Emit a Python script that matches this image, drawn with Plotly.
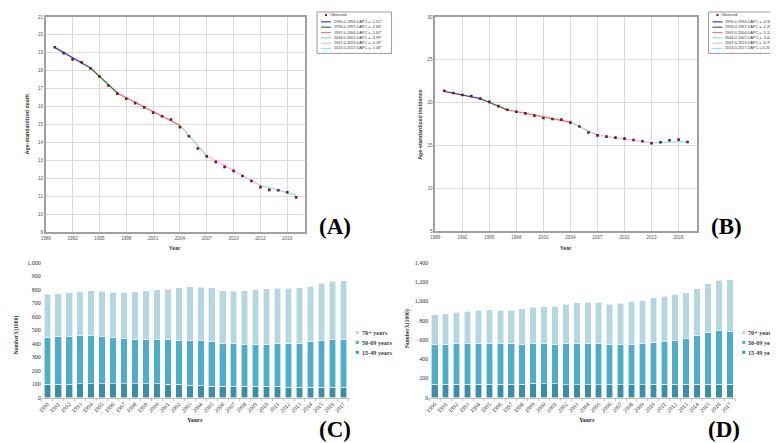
import plotly.graph_objects as go

W, H = 778, 443

# ---- data ----
years = list(range(1990, 2018))
year_labels = [str(y) for y in years]
joinpoints = [1990, 1994, 1997, 2004, 2007, 2013, 2017]
seg_colors = ["#3c3cc8", "#2f7f2f", "#f07878", "#8fd8d8", "#f2b4f2", "#7ff0f0"]

death_obs = [19.31, 18.98, 18.63, 18.47, 18.12, 17.68, 17.17, 16.72, 16.43, 16.19,
             15.95, 15.66, 15.46, 15.28, 14.85, 14.34, 13.66, 13.22, 12.91, 12.63,
             12.41, 12.12, 11.84, 11.50, 11.35, 11.33, 11.22, 10.93]
death_fit = [19.3, 18.15, 16.75, 14.95, 13.25, 11.6, 11.05]
death_apc = ["-1.51*", "-2.63*", "-1.61*", "-3.99*", "-2.16*", "-1.34*"]

inc_obs = [21.38, 21.11, 20.88, 20.77, 20.46, 20.08, 19.58, 19.16, 18.93, 18.74,
           18.47, 18.20, 18.08, 18.01, 17.66, 17.20, 16.51, 16.17, 16.02, 15.90,
           15.79, 15.63, 15.48, 15.25, 15.36, 15.59, 15.67, 15.40]
inc_fit = [21.3, 20.45, 19.15, 17.7, 16.2, 15.3, 15.45]
inc_apc = ["-0.98*", "-2.28*", "-1.12*", "-3.00*", "-0.79*", "0.25"]

age_groups = ["15-49 years", "50-69 years", "70+ years"]
bar_colors = ["#3a8ea6", "#4eadc8", "#b5d7e2"]

deaths_15_49 = [98, 98, 98, 103, 103, 103, 103, 103, 103, 103, 103, 98, 98, 92,
                88, 85, 85, 85, 85, 85, 85, 85, 78, 78, 78, 78, 78, 78]
deaths_50_69 = [348, 353, 353, 355, 355, 348, 343, 336, 329, 329, 326, 329, 324, 330,
                332, 330, 317, 313, 310, 308, 310, 313, 320, 324, 337, 344, 354, 354]
deaths_70 = [319, 319, 324, 327, 332, 337, 336, 343, 353, 361, 371, 376, 390, 398,
             398, 397, 391, 390, 398, 405, 410, 410, 412, 410, 408, 426, 430, 433]

cases_15_49 = [140, 140, 140, 140, 140, 140, 140, 140, 140, 152, 145, 145, 132, 132,
               132, 132, 132, 132, 132, 132, 138, 138, 138, 138, 138, 138, 138, 138]
cases_50_69 = [406, 413, 417, 423, 423, 423, 417, 417, 413, 405, 412, 408, 425, 425,
               425, 425, 414, 414, 421, 428, 432, 443, 456, 477, 507, 538, 557, 552]
cases_70 = [314, 318, 327, 335, 345, 349, 351, 351, 369, 379, 385, 396, 409, 426,
            433, 433, 424, 431, 444, 451, 465, 471, 478, 474, 482, 502, 521, 533]

sans = "Liberation Sans, Arial, sans-serif"
serif = "Liberation Serif, Times New Roman, serif"


def px(x):
    return x / W


def py(y):
    return 1 - y / H


fig = go.Figure()
shapes = []
annotations = []


def joinpoint_panel(obs, fit, xa, ya):
    for i in range(len(fit) - 1):
        fig.add_trace(go.Scatter(x=[joinpoints[i], joinpoints[i + 1]], y=[fit[i], fit[i + 1]],
                                 mode="lines", line=dict(color=seg_colors[i], width=1.3),
                                 showlegend=False, xaxis=xa, yaxis=ya))
    fig.add_trace(go.Scatter(x=years, y=obs, mode="markers",
                             marker=dict(symbol="square", size=2.6, color="#7b1424"),
                             showlegend=False, xaxis=xa, yaxis=ya))


def jp_legend(x0, x1, apc):
    shapes.append(dict(type="rect", xref="paper", yref="paper", x0=px(x0), x1=px(x1),
                       y0=py(43), y1=py(1), line=dict(color="#9a9a9a", width=1),
                       fillcolor="white", layer="above"))
    shapes.append(dict(type="rect", xref="paper", yref="paper", x0=px(x0 + 8), x1=px(x0 + 10),
                       y0=py(5), y1=py(3), line=dict(width=0), fillcolor="#7b1424", layer="above"))
    annotations.append(dict(x=px(x0 + 11), y=py(4.5), xref="paper", yref="paper", text="Observed",
                            showarrow=False, xanchor="left", yanchor="middle",
                            font=dict(family=sans, size=3.8, color="#333")))
    for i, a in enumerate(apc):
        yy = 11 + 5.4 * i
        shapes.append(dict(type="line", xref="paper", yref="paper", x0=px(x0 + 4), x1=px(x0 + 14),
                           y0=py(yy), y1=py(yy), line=dict(color=seg_colors[i], width=1.2),
                           layer="above"))
        label = f"{joinpoints[i]:.1f}-{joinpoints[i + 1]:.1f} APC = {a}"
        annotations.append(dict(x=px(x0 + 15), y=py(yy), xref="paper", yref="paper", text=label,
                                showarrow=False, xanchor="left", yanchor="middle",
                                font=dict(family=sans, size=3.8, color="#333")))


joinpoint_panel(death_obs, death_fit, "x", "y")
joinpoint_panel(inc_obs, inc_fit, "x2", "y2")
jp_legend(306, 381, death_apc)
jp_legend(700, 776, inc_apc)

for vals, name, col in zip([deaths_15_49, deaths_50_69, deaths_70], age_groups, bar_colors):
    fig.add_trace(go.Bar(x=year_labels, y=vals, name=name, marker=dict(color=col, line=dict(color="white", width=0.6)),
                         showlegend=False, xaxis="x3", yaxis="y3"))
for vals, name, col in zip([cases_15_49, cases_50_69, cases_70], age_groups, bar_colors):
    fig.add_trace(go.Bar(x=year_labels, y=vals, name=name, marker=dict(color=col, line=dict(color="white", width=0.6)),
                         showlegend=False, xaxis="x4", yaxis="y4"))


def bar_legend(x0):
    for i, (name, col) in enumerate(zip(age_groups[::-1], bar_colors[::-1])):
        yy = 326 + 10 * i
        shapes.append(dict(type="rect", xref="paper", yref="paper", x0=px(x0), x1=px(x0 + 3),
                           y0=py(yy + 1.5), y1=py(yy - 1.5), line=dict(width=0), fillcolor=col))
        annotations.append(dict(x=px(x0 + 4), y=py(yy), xref="paper", yref="paper", text="<b>" + name + "</b>",
                                showarrow=False, xanchor="left", yanchor="middle",
                                font=dict(family=serif, size=6.2, color="#404040")))


bar_legend(345)
bar_legend(734)

line_ax = dict(showline=True, mirror=True, linecolor="#a0a0a0", linewidth=1.5, showgrid=True,
               gridcolor="#dcdcdc", gridwidth=1, ticks="", zeroline=False,
               tickfont=dict(family=sans, size=4.6, color="#555"))
jx = dict(range=[1989, 2018], tickvals=list(range(1989, 2017, 3)), ticklabelstandoff=1)
bar_x = dict(type="category", tickangle=-45, showline=True, linecolor="#bfbfbf", linewidth=1,
             ticks="outside", tickson="boundaries", ticklen=2, tickcolor="#bfbfbf",
             showgrid=False, tickfont=dict(family=serif, size=5.8, color="#303030"))
bar_y = dict(showline=False, showgrid=False, zeroline=False, ticks="", tickformat=",",
             tickfont=dict(family=serif, size=6, color="#303030"))

fig.update_layout(
    width=W, height=H, autosize=False, margin=dict(l=0, r=0, t=0, b=0),
    paper_bgcolor="white", plot_bgcolor="white", barmode="stack", bargap=0.4,
    xaxis=dict(domain=[px(33), px(294)], anchor="y", **jx, **line_ax),
    yaxis=dict(domain=[py(224), py(6)], anchor="x", range=[9, 21], dtick=1, **line_ax),
    xaxis2=dict(domain=[px(425), px(688)], anchor="y2", **jx, **line_ax),
    yaxis2=dict(domain=[py(223), py(6)], anchor="x2", range=[5, 30], dtick=5, **line_ax),
    xaxis3=dict(domain=[px(29), px(338)], anchor="y3", **bar_x),
    yaxis3=dict(domain=[py(392), py(255)], anchor="x3", range=[0, 1000], dtick=100, **bar_y),
    xaxis4=dict(domain=[px(419), px(727)], anchor="y4", **bar_x),
    yaxis4=dict(domain=[py(392), py(255)], anchor="x4", range=[0, 1400], dtick=200, **bar_y),
)


def note(x, y, text, size, family, angle=0, color="#333"):
    annotations.append(dict(x=px(x), y=py(y), xref="paper", yref="paper", text=text, showarrow=False,
                            xanchor="center", yanchor="middle", textangle=angle,
                            font=dict(family=family, size=size, color=color)))


note(15, 115, "<b>Age-standardized death</b>", 5.3, sans, -90)
note(410, 115, "<b>Age-standardized incidence</b>", 5.3, sans, -90)
note(163, 240, "<b>Year</b>", 5.3, sans)
note(556, 240, "<b>Year</b>", 5.3, sans)
note(4, 328, "<b>NumberX(1000)</b>", 5.6, serif, -90, "#303030")
note(397, 322, "<b>NumberX(1000)</b>", 5.6, serif, -90, "#303030")
note(183, 414, "<b>Years</b>", 6.5, serif, 0, "#303030")
note(578, 414, "<b>Years</b>", 6.5, serif, 0, "#303030")
for lab, x, y in [("(A)", 324, 218), ("(B)", 718, 218), ("(C)", 324, 424), ("(D)", 716, 424)]:
    note(x, y, "<b>" + lab + "</b>", 23, serif, 0, "black")

fig.update_layout(shapes=shapes, annotations=annotations)
fig.write_html("out.html")
